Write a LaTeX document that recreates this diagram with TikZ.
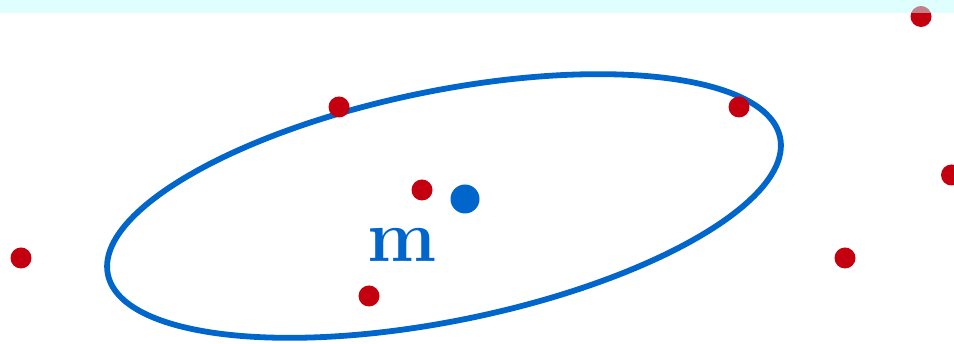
\documentclass[tikz,border=0pt]{standalone}
\usepackage{tikz}
\usetikzlibrary{positioning}
\definecolor{clusterblue}{HTML}{0066CC}
\definecolor{pointred}{HTML}{C40010}
\definecolor{bandcyan}{HTML}{C1FFFF}

\begin{document}
\begin{tikzpicture}[
  reddot/.style={circle,fill=pointred,inner sep=0pt,minimum size=.42cm},
  bluedot/.style={circle,fill=clusterblue,inner sep=0pt,minimum size=.58cm}]
\clip (0,0) rectangle (19.08,6.88);
\fill[white] (0,0) rectangle (19.08,6.88);
\draw[clusterblue,line width=3.3pt,rotate around={11.5:(8.88,2.76)}] (8.88,2.76) ellipse (6.86 and 2.3);
\foreach \i/\pos in {1/{6.78,4.74},2/{14.78,4.74},3/{18.42,6.55},4/{19.03,3.38},5/{0.42,1.72},6/{16.9,1.72},7/{8.44,3.08},8/{7.38,0.96}}{
 \node[reddot] (p\i) at (\pos){};
}
\node[bluedot] (mean) at (9.3,2.9){};
\node[clusterblue,font=\fontsize{42}{46}\selectfont\bfseries] (mlabel) at (8.04,1.98){m};
\fill[bandcyan,opacity=.5] (0,6.62) rectangle (19.08,6.88);
\end{tikzpicture}
\end{document}
